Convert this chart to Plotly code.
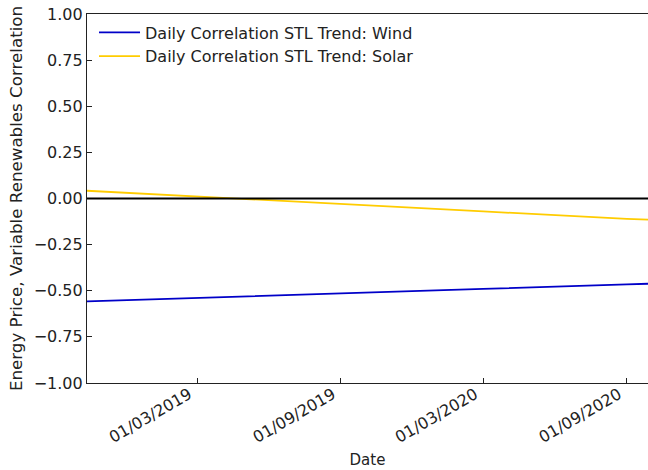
import plotly.graph_objects as go

dates = ["2018-10-11", "2019-03-01", "2019-09-01", "2020-03-01", "2020-09-01", "2020-09-28"]
wind = [-0.558, -0.540, -0.517, -0.490, -0.465, -0.462]
solar = [0.042, 0.012, -0.030, -0.070, -0.110, -0.115]

tick_dates = ["2019-03-01", "2019-09-01", "2020-03-01", "2020-09-01"]
tick_text = ["01/03/2019", "01/09/2019", "01/03/2020", "01/09/2020"]
y_ticks = [-1.0, -0.75, -0.5, -0.25, 0.0, 0.25, 0.5, 0.75, 1.0]

FONT = "DejaVu Sans"
fig = go.Figure()
fig.add_trace(go.Scatter(x=dates, y=wind, mode="lines", name="Daily Correlation STL Trend: Wind",
                         line=dict(color="#0000c8", width=1.8)))
fig.add_trace(go.Scatter(x=dates, y=solar, mode="lines", name="Daily Correlation STL Trend: Solar",
                         line=dict(color="#ffcc00", width=1.8)))
fig.add_shape(type="line", xref="paper", x0=0, x1=1, yref="y", y0=0, y1=0,
              line=dict(color="black", width=1.8))

fig.update_layout(
    width=648, height=470,
    margin=dict(l=87, r=0, t=14, b=87),
    plot_bgcolor="white", paper_bgcolor="white",
    font=dict(family=FONT, size=16, color="#222222"),
    showlegend=True,
    legend=dict(x=0.0125, y=0.996, xanchor="left", yanchor="top", bgcolor="rgba(0,0,0,0)",
                font=dict(size=16), tracegroupgap=0, itemwidth=41),
    xaxis=dict(range=[dates[0], dates[-1]], tickmode="array", tickvals=tick_dates, ticktext=tick_text,
               tickangle=-30, ticks="inside", ticklen=5, tickcolor="#222222", automargin=False,
               ticklabelstandoff=-5, ticklabelshift=-8,
               showline=True, linecolor="#222222", linewidth=1.2, mirror=True, showgrid=False,
               zeroline=False, title=dict(text="Date", standoff=8, font=dict(size=15))),
    yaxis=dict(range=[-1, 1], tickmode="array", tickvals=y_ticks, tickformat=".2f",
               ticks="inside", ticklen=5, tickcolor="#222222", automargin=False,
               showline=True, linecolor="#222222", linewidth=1.2, showgrid=False, zeroline=False,
               title=dict(text="Energy Price, Variable Renewables Correlation", standoff=6,
                          font=dict(size=16.7))),
)
fig.write_html("out.html", post_script="document.body.style.margin='0';",
               config={"displayModeBar": False})
